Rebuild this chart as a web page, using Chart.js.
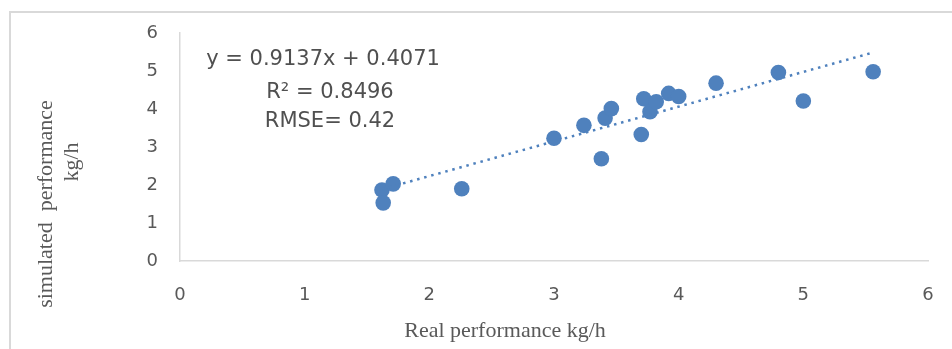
<!DOCTYPE html>
<html>
<head>
<meta charset="utf-8">
<script src="https://cdn.jsdelivr.net/npm/chart.js@4/dist/chart.umd.min.js"></script>
<style>
  html, body { margin: 0; padding: 0; background: #fff; }
  #c { display: block; }
</style>
</head>
<body>
<canvas id="c" width="952" height="349"></canvas>
<script>
// ---- data ----
const realPerformance = [1.62, 1.63, 1.71, 2.26, 3.00, 3.24, 3.38, 3.41, 3.46, 3.70, 3.72, 3.77, 3.82, 3.92, 4.00, 4.30, 4.80, 5.00, 5.56];
const simulatedPerformance = [1.87, 1.53, 2.03, 1.90, 3.23, 3.57, 2.69, 3.76, 4.01, 3.33, 4.27, 3.93, 4.19, 4.41, 4.33, 4.68, 4.96, 4.21, 4.98];
const trendSlope = 0.9137;
const trendIntercept = 0.4071;
const axisTicks = [0, 1, 2, 3, 4, 5, 6];
const annotationLines = ['y = 0.9137x + 0.4071', 'R\u00b2 = 0.8496', 'RMSE= 0.42'];
const xTitle = 'Real performance kg/h';
const yTitleLines = ['simulated  performance', 'kg/h'];

const points = realPerformance.map((x, i) => ({ x, y: simulatedPerformance[i] }));
const xMinData = Math.min(...realPerformance);
const xMaxData = Math.max(...realPerformance);
const trendPoints = [xMinData, xMaxData].map(x => ({ x, y: trendSlope * x + trendIntercept }));

const BLUE = '#4f81bd';
const GREY = '#595959';
const SANS = '"DejaVu Sans"';

const decor = {
  id: 'decor',
  beforeDraw(chart) {
    const ctx = chart.ctx;
    ctx.save();
    ctx.fillStyle = '#fff';
    ctx.fillRect(0, 0, chart.width, chart.height);
    ctx.strokeStyle = '#d9d9d9';
    ctx.lineWidth = 2;
    ctx.beginPath();
    ctx.moveTo(10, chart.height);
    ctx.lineTo(10, 12);
    ctx.lineTo(chart.width, 12);
    ctx.stroke();
    ctx.restore();
  },
  afterDraw(chart) {
    const ctx = chart.ctx;
    ctx.save();
    ctx.fillStyle = '#505050';
    ctx.font = '21px ' + SANS;
    ctx.textAlign = 'center';
    ctx.textBaseline = 'alphabetic';
    ctx.fillText(annotationLines[0], 323, 65);
    ctx.fillText(annotationLines[1], 330, 98);
    ctx.fillText(annotationLines[2], 330, 127);
    ctx.fillStyle = GREY;
    ctx.font = '22px "Liberation Serif"';
    ctx.fillText(xTitle, 505, 337);
    ctx.save();
    ctx.translate(52, 204);
    ctx.rotate(-Math.PI / 2);
    ctx.fillText(yTitleLines[0], 0, 0);
    ctx.restore();
    ctx.save();
    ctx.translate(78, 162);
    ctx.rotate(-Math.PI / 2);
    ctx.fillText(yTitleLines[1], 0, 0);
    ctx.restore();
    ctx.restore();
  }
};

function build() {
  const yTickFont = { family: SANS, size: 18 };
  const xTickFont = { family: SANS, size: 18, lineHeight: '32px' };
  new Chart(document.getElementById('c'), {
    type: 'scatter',
    data: {
      datasets: [
        {
          type: 'line',
          label: 'Trend',
          data: trendPoints,
          borderColor: BLUE,
          borderWidth: 2.5,
          borderDash: [2.5, 4.8],
          pointRadius: 0,
          fill: false,
          tension: 0
        },
        {
          label: 'Data',
          data: points,
          backgroundColor: BLUE,
          borderColor: BLUE,
          borderWidth: 0,
          pointRadius: 7.8,
          pointHoverRadius: 7.8
        }
      ]
    },
    options: {
      responsive: false,
      animation: false,
      events: [],
      layout: { padding: { left: 0, right: 24, top: 33, bottom: 0 } },
      plugins: { legend: { display: false }, tooltip: { enabled: false } },
      scales: {
        x: {
          type: 'linear',
          min: axisTicks[0],
          max: axisTicks[axisTicks.length - 1],
          afterBuildTicks: s => { s.ticks = axisTicks.map(v => ({ value: v })); },
          ticks: { color: GREY, font: xTickFont, padding: 18, maxRotation: 0 },
          grid: { display: false, drawTicks: false },
          border: { display: true, color: '#d9d9d9', width: 1.5 },
          afterFit: s => { s.height = 88; }
        },
        y: {
          type: 'linear',
          min: axisTicks[0],
          max: axisTicks[axisTicks.length - 1],
          afterBuildTicks: s => { s.ticks = axisTicks.map(v => ({ value: v })); },
          ticks: { color: GREY, font: yTickFont, padding: 22 },
          grid: { display: false, drawTicks: false },
          border: { display: true, color: '#d9d9d9', width: 1.5 },
          afterFit: s => { s.width = 180; }
        }
      }
    },
    plugins: [decor]
  });
}

Promise.all([
  document.fonts.load('18px "DejaVu Sans"'),
  document.fonts.load('21px "DejaVu Sans"'),
  document.fonts.load('22px "Liberation Serif"')
]).then(build, build);
</script>
</body>
</html>
